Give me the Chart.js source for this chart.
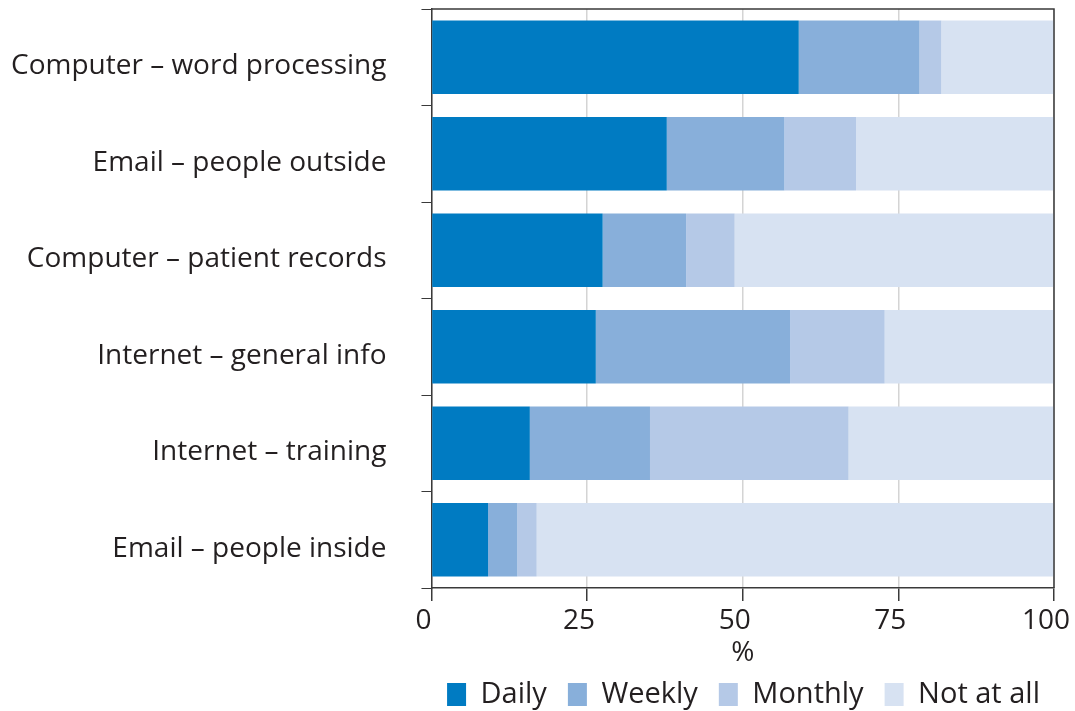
<!DOCTYPE html>
<html>
<head>
<meta charset="utf-8">
<script src="https://cdn.jsdelivr.net/npm/chart.js@4"></script>
<style>
    html, body { margin: 0; padding: 0; background: #fff; }
    #wrap { width: 1075px; height: 711px; }
</style>
</head>
<body>
<div id="wrap"><canvas id="usage-chart"></canvas></div>
<script>
// Frequency of computer / internet / email use (% of respondents)

const categories = [
    'Computer – word processing',
    'Email – people outside',
    'Computer – patient records',
    'Internet – general info',
    'Internet – training',
    'Email – people inside'
];
const daily = [59.0, 37.8, 27.5, 26.4, 15.8, 9.1];
const weekly = [19.4, 18.9, 13.4, 31.2, 19.3, 4.7];
const monthly = [3.5, 11.5, 7.8, 15.2, 31.9, 3.1];
const notAtAll = [18.1, 31.8, 51.3, 27.2, 33.0, 83.1];
const xTicks = [0, 25, 50, 75, 100];

const textColor = '#231f20';
const axisColor = '#3a3a3a';
const fontFamily = '"Open Sans", "Noto Sans", sans-serif';
const baseFont = { family: fontFamily, size: 28, lineHeight: 1 };

// Top and right frame of the plot area
const frameBorder = {
    id: 'frameBorder',
    afterDraw(chart) {
        const { ctx, chartArea } = chart;
        ctx.save();
        ctx.strokeStyle = axisColor;
        ctx.lineWidth = 1.5;
        ctx.beginPath();
        ctx.moveTo(chartArea.left, chartArea.top);
        ctx.lineTo(chartArea.right, chartArea.top);
        ctx.lineTo(chartArea.right, chartArea.bottom);
        ctx.stroke();
        ctx.restore();
    }
};

function makeDataset(label, data, color) {
    return {
        label: label,
        data: data,
        backgroundColor: color,
        borderWidth: 0,
        categoryPercentage: 1,
        barPercentage: 0.76
    };
}

document.addEventListener('DOMContentLoaded', function () {
    const ctx = document.getElementById('usage-chart');
    new Chart(ctx, {
        type: 'bar',
        data: {
            labels: categories,
            datasets: [
                makeDataset('Daily', daily, '#007bc2'),
                makeDataset('Weekly', weekly, '#88afda'),
                makeDataset('Monthly', monthly, '#b5c9e7'),
                makeDataset('Not at all', notAtAll, '#d7e2f2')
            ]
        },
        options: {
            indexAxis: 'y',
            responsive: true,
            maintainAspectRatio: false,
            animation: false,
            layout: {
                padding: { left: 10, right: 14, top: 9, bottom: -8 }
            },
            plugins: {
                legend: {
                    position: 'bottom',
                    align: 'end',
                    labels: {
                        color: textColor,
                        font: { family: fontFamily, size: 29, lineHeight: 1 },
                        boxWidth: 19,
                        boxHeight: 23,
                        padding: 21
                    }
                },
                tooltip: { enabled: false }
            },
            scales: {
                x: {
                    stacked: true,
                    type: 'linear',
                    min: 0,
                    max: 100,
                    afterBuildTicks: axis => {
                        axis.ticks = xTicks.map(v => ({ value: v }));
                    },
                    // fixed axis band; only room for half of "100" on the right
                    afterFit: axis => {
                        axis.paddingRight = 21;
                        axis.height = 71;
                    },
                    ticks: {
                        color: textColor,
                        font: baseFont,
                        padding: 6,
                        labelOffset: -8
                    },
                    grid: {
                        color: '#d4d4d4',
                        lineWidth: 1.5,
                        tickColor: axisColor,
                        tickLength: 13
                    },
                    border: { display: true, color: axisColor, width: 1.5 },
                    title: {
                        display: true,
                        text: '%',
                        color: textColor,
                        font: baseFont,
                        padding: { top: 0, bottom: -8 }
                    }
                },
                y: {
                    stacked: true,
                    // labels sit far from the axis; keep that gap from pushing the plot around
                    afterFit: axis => {
                        axis.paddingTop = 0;
                        axis.paddingBottom = 0;
                        axis.width -= 34;
                    },
                    ticks: {
                        color: textColor,
                        font: baseFont,
                        padding: 35,
                        labelOffset: 9
                    },
                    grid: {
                        drawOnChartArea: false,
                        color: axisColor,
                        tickLength: 10,
                        offset: true
                    },
                    border: { display: true, color: axisColor, width: 1.5 }
                }
            }
        },
        plugins: [frameBorder]
    });
});
</script>
</body>
</html>
